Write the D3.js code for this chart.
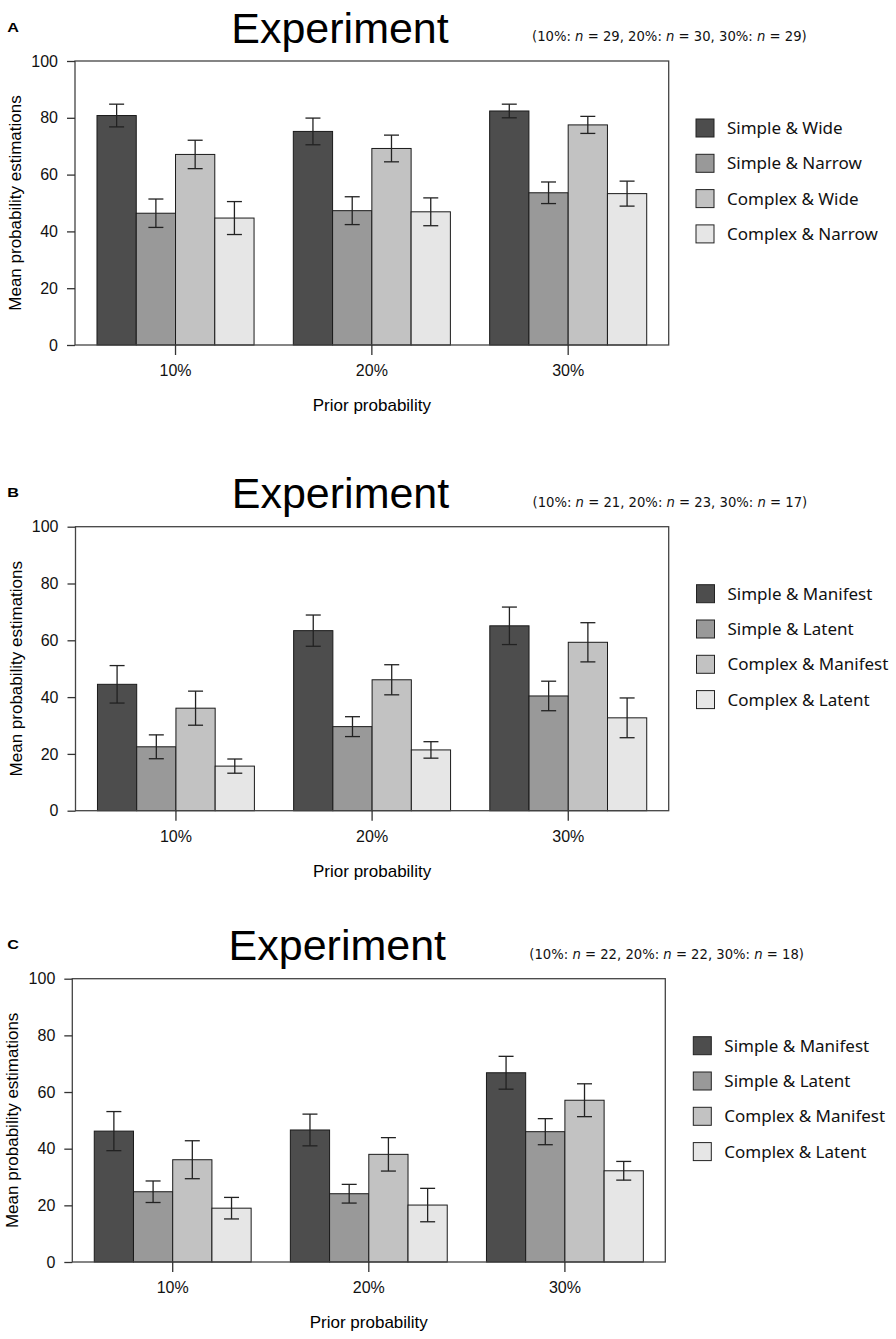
<!DOCTYPE html>
<html>
<head>
<meta charset="utf-8">
<script src="https://cdn.jsdelivr.net/npm/d3@7"></script>
<style>
  body { margin: 0; background: #fff; }
  svg { display: block; }
</style>
</head>
<body>
<script>
const groups = ["10%", "20%", "30%"];
const yTicks = [0, 20, 40, 60, 80, 100];
const fills = ["#4d4d4d", "#999999", "#c2c2c2", "#e6e6e6"];

// panel A
const seriesA = ["Simple & Wide", "Simple & Narrow", "Complex & Wide", "Complex & Narrow"];
const meansA = [
  [80.8, 75.2, 82.4],
  [46.4, 47.3, 53.6],
  [67.1, 69.2, 77.5],
  [44.7, 46.9, 53.3],
];
const errA = [
  [4.0, 4.7, 2.4],
  [5.0, 4.9, 3.8],
  [5.0, 4.7, 3.0],
  [5.8, 4.9, 4.4],
];
const nA = [29, 30, 29];

// panel B
const seriesB = ["Simple & Manifest", "Simple & Latent", "Complex & Manifest", "Complex & Latent"];
const meansB = [
  [44.5, 63.4, 65.1],
  [22.5, 29.6, 40.4],
  [36.1, 46.1, 59.3],
  [15.7, 21.4, 32.7],
];
const errB = [
  [6.6, 5.5, 6.6],
  [4.2, 3.5, 5.2],
  [6.0, 5.3, 6.9],
  [2.5, 2.9, 7.0],
];
const nB = [21, 23, 17];

// panel C
const seriesC = ["Simple & Manifest", "Simple & Latent", "Complex & Manifest", "Complex & Latent"];
const meansC = [
  [46.2, 46.6, 66.8],
  [24.8, 24.1, 46.0],
  [36.1, 38.0, 57.1],
  [19.0, 20.1, 32.2],
];
const errC = [
  [6.9, 5.6, 5.8],
  [3.8, 3.3, 4.6],
  [6.7, 5.9, 5.8],
  [3.8, 5.9, 3.3],
];
const nC = [22, 22, 18];

const sans = "'Liberation Sans', Arial, sans-serif";

const svg = d3.select("body").append("svg")
  .attr("width", 896)
  .attr("height", 1339);

function drawPanel(p) {
  const g = svg.append("g");

  const x0 = d3.scaleBand()
    .domain(groups)
    .range([p.left, p.right])
    .paddingInner(0.2)
    .paddingOuter(0.112);
  const x1 = d3.scaleBand()
    .domain(p.series)
    .range([0, x0.bandwidth()]);
  const y = d3.scaleLinear().domain([0, 100]).range([p.bottom, p.top]);

  const rows = [];
  p.series.forEach((s, si) => {
    groups.forEach((grp, gi) => {
      rows.push({ group: grp, series: s, si: si, mean: p.means[si][gi], err: p.errs[si][gi] });
    });
  });

  g.selectAll(".bar")
    .data(rows)
    .enter()
    .append("rect")
    .attr("class", "bar")
    .attr("x", (d) => x0(d.group) + x1(d.series))
    .attr("y", (d) => y(d.mean))
    .attr("width", x1.bandwidth())
    .attr("height", (d) => y(0) - y(d.mean))
    .attr("fill", (d) => fills[d.si])
    .attr("stroke", "#1a1a1a")
    .attr("stroke-width", 1);

  // error bars
  const eb = g.selectAll(".err")
    .data(rows)
    .enter()
    .append("g")
    .attr("class", "err")
    .attr("stroke", "#222")
    .attr("stroke-width", 1.3);
  const cx = (d) => x0(d.group) + x1(d.series) + x1.bandwidth() / 2;
  eb.append("line")
    .attr("x1", cx).attr("x2", cx)
    .attr("y1", (d) => y(d.mean + d.err))
    .attr("y2", (d) => y(d.mean - d.err));
  eb.append("line")
    .attr("x1", (d) => cx(d) - 7.5).attr("x2", (d) => cx(d) + 7.5)
    .attr("y1", (d) => y(d.mean + d.err)).attr("y2", (d) => y(d.mean + d.err));
  eb.append("line")
    .attr("x1", (d) => cx(d) - 7.5).attr("x2", (d) => cx(d) + 7.5)
    .attr("y1", (d) => y(d.mean - d.err)).attr("y2", (d) => y(d.mean - d.err));

  // frame
  g.append("rect")
    .attr("x", p.left)
    .attr("y", p.top)
    .attr("width", p.right - p.left)
    .attr("height", p.bottom - p.top)
    .attr("fill", "none")
    .attr("stroke", "#444")
    .attr("stroke-width", 1.3);

  // axes
  const ya = g.append("g")
    .attr("transform", `translate(${p.left},0)`)
    .call(d3.axisLeft(y).tickValues(yTicks).tickSize(8).tickPadding(9));
  ya.select(".domain").remove();
  ya.selectAll("line").attr("stroke", "#333").attr("stroke-width", 1.3);
  ya.selectAll("text").attr("font-family", sans).attr("font-size", 16).attr("fill", "#111");

  const xa = g.append("g")
    .attr("transform", `translate(0,${p.bottom})`)
    .call(d3.axisBottom(x0).tickSize(10).tickPadding(9.5));
  xa.select(".domain").remove();
  xa.selectAll("line").attr("stroke", "#333").attr("stroke-width", 1.3);
  xa.selectAll("text").attr("font-family", sans).attr("font-size", 16).attr("fill", "#111");

  // axis titles
  g.append("text")
    .attr("transform", `translate(${p.left - 54},${(p.top + p.bottom) / 2}) rotate(-90)`)
    .attr("text-anchor", "middle")
    .attr("font-family", sans)
    .attr("font-size", 17)
    .text("Mean probability estimations");

  g.append("text")
    .attr("x", (p.left + p.right) / 2)
    .attr("y", p.bottom + 66)
    .attr("text-anchor", "middle")
    .attr("font-family", sans)
    .attr("font-size", 17)
    .text("Prior probability");

  // titles
  g.append("text")
    .attr("x", p.left + 265)
    .attr("y", p.top - 18.3)
    .attr("text-anchor", "middle")
    .attr("font-family", sans)
    .attr("font-size", 43)
    .text("Experiment");

  const sub = g.append("text")
    .attr("x", p.left + 457)
    .attr("y", p.top - 20)
    .attr("font-family", "'DejaVu Sans', sans-serif")
    .attr("font-size", 13.2)
    .attr("fill", "#111");
  sub.append("tspan").text("(");
  groups.forEach((grp, i) => {
    sub.append("tspan").text(grp + ": ");
    sub.append("tspan").attr("font-style", "italic").text("n");
    sub.append("tspan").text(" = " + p.ns[i] + (i < groups.length - 1 ? ", " : ")"));
  });

  g.append("text")
    .attr("x", 7.3)
    .attr("y", p.top - 29.3)
    .attr("font-family", sans)
    .attr("font-weight", "bold")
    .attr("font-size", 12)
    .attr("textLength", 11.7)
    .attr("lengthAdjust", "spacingAndGlyphs")
    .text(p.label);

  // legend
  const lg = g.selectAll(".leg")
    .data(p.series)
    .enter()
    .append("g")
    .attr("class", "leg")
    .attr("transform", (d, i) => `translate(${p.left + 621},${p.top + 67 + i * 35.3})`);
  lg.append("rect")
    .attr("x", 0).attr("y", -9)
    .attr("width", 18).attr("height", 18)
    .attr("fill", (d, i) => fills[i])
    .attr("stroke", "#222")
    .attr("stroke-width", 1);
  lg.append("text")
    .attr("x", 31)
    .attr("y", 0)
    .attr("dy", "0.36em")
    .attr("font-family", "'Noto Sans', sans-serif")
    .attr("font-size", 17)
    .attr("fill", "#111")
    .text((d) => d);
}

drawPanel({ label: "A", left: 75, top: 61, right: 668.7, bottom: 345,
  series: seriesA, means: meansA, errs: errA, ns: nA });
drawPanel({ label: "B", left: 75.5, top: 526.7, right: 668.7, bottom: 810.7,
  series: seriesB, means: meansB, errs: errB, ns: nB });
drawPanel({ label: "C", left: 72.3, top: 978.7, right: 665.3, bottom: 1262,
  series: seriesC, means: meansC, errs: errC, ns: nC });
</script>
</body>
</html>
